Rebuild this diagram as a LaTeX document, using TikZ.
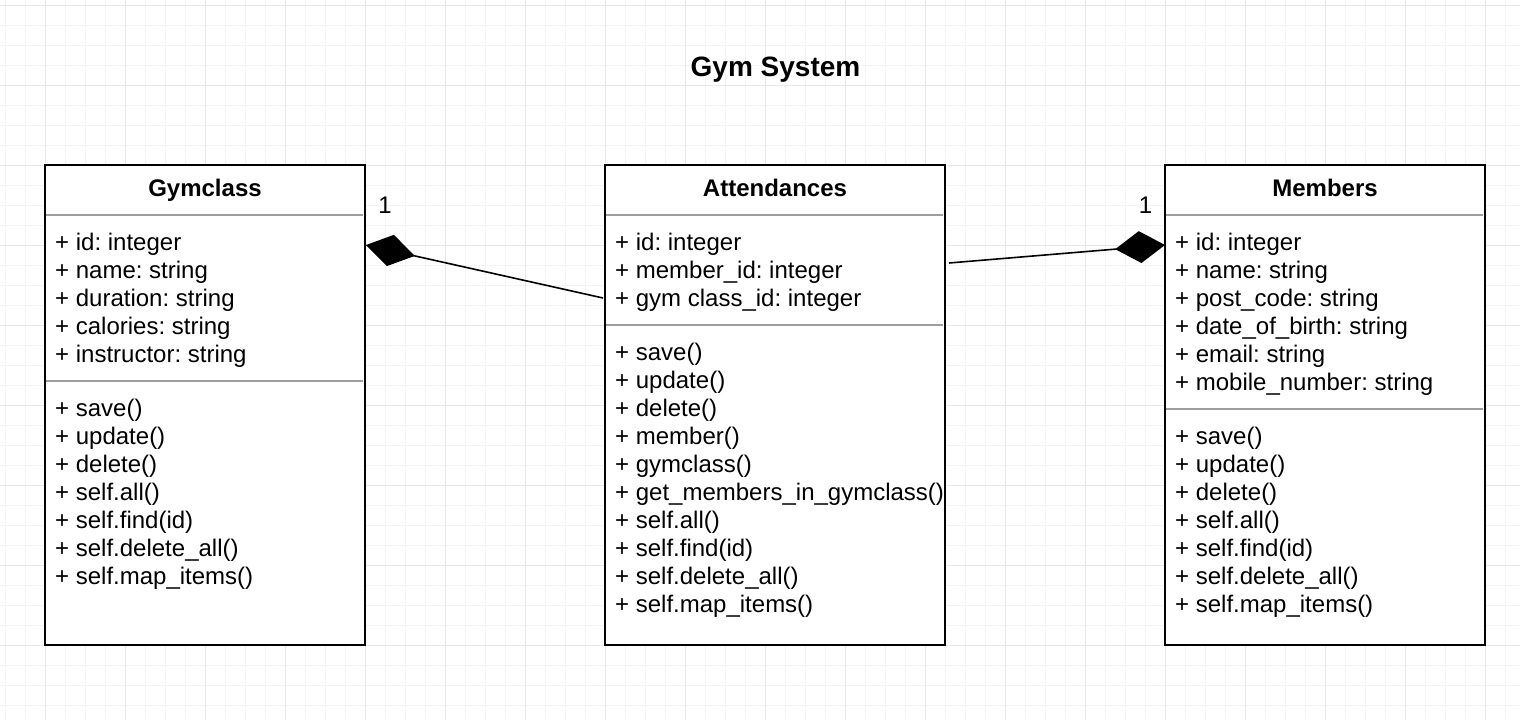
\documentclass[tikz,border=0pt]{standalone}
\usepackage{fontspec}
\setmainfont{Liberation Sans}
\usetikzlibrary{arrows.meta,calc}
\frenchspacing
\definecolor{gridminor}{HTML}{F4F4F4}
\definecolor{gridmajor}{HTML}{E8E8E8}
\definecolor{sepgray}{HTML}{9E9E9E}
\tikzset{
  umlbox/.style={draw=black, line width=2pt, fill=white, anchor=north west,
    minimum width=#1, minimum height=480pt, inner sep=0pt, outer sep=0pt},
  member/.style={anchor=base west, inner sep=0pt, font=\fontsize{24}{28}\selectfont},
  classname/.style={anchor=base, inner sep=0pt, font=\fontsize{24}{28}\selectfont\bfseries},
  titletext/.style={anchor=base, inner sep=0pt, font=\fontsize{28}{32}\selectfont\bfseries},
  sepline/.style={draw=sepgray, line width=2pt},
  comp/.style={line width=1.6pt, -{Diamond[length=50pt,width=32pt]}},
  minorline/.style={draw=gridminor, line width=1pt},
  majorline/.style={draw=gridmajor, line width=1pt},
}
\begin{document}
\frenchspacing
\begin{tikzpicture}[x=1pt,y=-1pt]
\useasboundingbox (0,0) rectangle (1520,720);
\fill[white] (0,0) rectangle (1520,720);
% grid
\foreach \x in {5,25,...,1505} \draw[minorline] (\x,0) -- (\x,720);
\foreach \y in {5,25,...,705} \draw[minorline] (0,\y) -- (1520,\y);
\foreach \x in {45,125,...,1485} \draw[majorline] (\x,0) -- (\x,720);
\foreach \y in {5,85,...,665} \draw[majorline] (0,\y) -- (1520,\y);

% title
\node[titletext] (title) at (775.5,76) {Gym System};

% boxes
\node[umlbox=320pt] (gym) at (45,165) {};
\node[umlbox=340pt] (att) at (605,165) {};
\node[umlbox=320pt] (mem) at (1165,165) {};

% class names
\node[classname] (gymname) at ($(gym.north)+(0,31)$) {Gymclass};
\node[classname] (attname) at ($(att.north)+(0,31)$) {Attendances};
\node[classname] (memname) at ($(mem.north)+(0,31)$) {Members};

% separators
\draw[sepline] ($(gym.north west)+(1,50)$) -- ($(gym.north east)+(-2,50)$);
\draw[sepline] ($(gym.north west)+(1,216)$) -- ($(gym.north east)+(-2,216)$);
\draw[sepline] ($(att.north west)+(1,50)$) -- ($(att.north east)+(-2,50)$);
\draw[sepline] ($(att.north west)+(1,160)$) -- ($(att.north east)+(-2,160)$);
\draw[sepline] ($(mem.north west)+(1,50)$) -- ($(mem.north east)+(-2,50)$);
\draw[sepline] ($(mem.north west)+(1,244)$) -- ($(mem.north east)+(-2,244)$);

% Gymclass members
\foreach \t [count=\i] in {+ id: integer, + name: string, + duration: string,
    + calories: string, + instructor: string}
  \node[member] (ga\i) at ($(gym.north west)+(10,{85+28*(\i-1)})$) {\t};
\foreach \t [count=\i] in {+ save(), + update(), + delete(), + self.all(),
    + self.find(id), + self.delete\_all(), + self.map\_items()}
  \node[member] (gm\i) at ($(gym.north west)+(10,{251+28*(\i-1)})$) {\t};

% Attendances members
\foreach \t [count=\i] in {+ id: integer, + member\_id: integer, + gym class\_id: integer}
  \node[member] (aa\i) at ($(att.north west)+(10,{85+28*(\i-1)})$) {\t};
\foreach \t [count=\i] in {+ save(), + update(), + delete(), + member(), + gymclass(),
    + get\_members\_in\_gymclass(), + self.all(), + self.find(id),
    + self.delete\_all(), + self.map\_items()}
  \node[member] (am\i) at ($(att.north west)+(10,{195+28*(\i-1)})$) {\t};

% Members members
\foreach \t [count=\i] in {+ id: integer, + name: string, + post\_code: string,
    + date\_of\_birth: string, + email: string, + mobile\_number: string}
  \node[member] (ma\i) at ($(mem.north west)+(10,{85+28*(\i-1)})$) {\t};
\foreach \t [count=\i] in {+ save(), + update(), + delete(), + self.all(),
    + self.find(id), + self.delete\_all(), + self.map\_items()}
  \node[member] (mm\i) at ($(mem.north west)+(10,{279+28*(\i-1)})$) {\t};

% connectors
\coordinate (attL) at ($(att.north west)+(-2,133)$);
\coordinate (gymR) at ($(gym.north east)+(1,80)$);
\coordinate (attR) at ($(att.north east)+(4,98)$);
\coordinate (memL) at ($(mem.north west)+(0,80)$);
\draw[comp] (attL) -- (gymR);
\draw[comp] (attR) -- (memL);

% multiplicities
\node[member, anchor=base] (mult1) at (385,213) {1};
\node[member, anchor=base] (mult2) at (1145.5,213) {1};
\end{tikzpicture}
\end{document}
